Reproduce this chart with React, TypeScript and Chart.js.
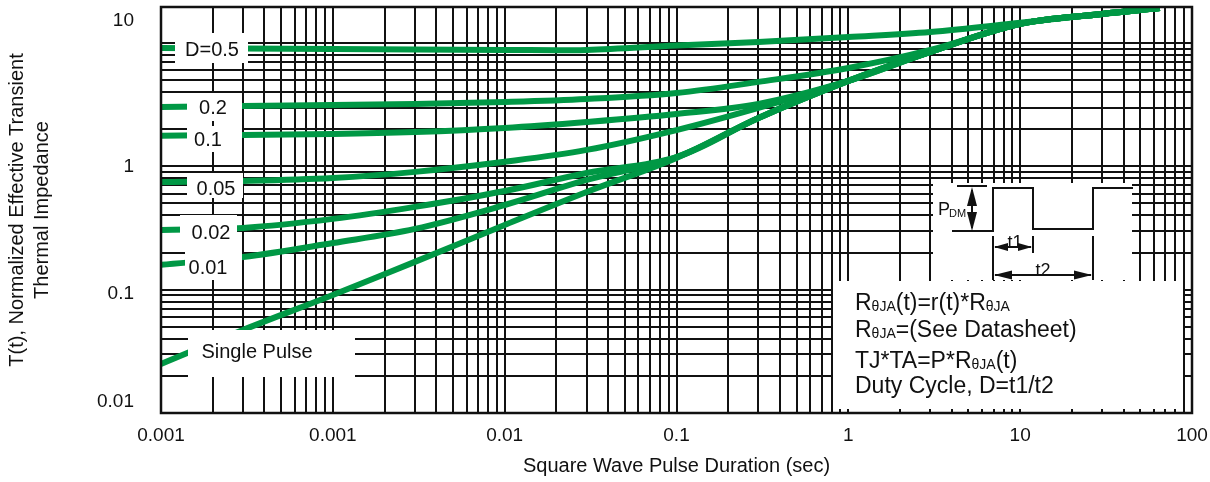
import React, { useEffect, useRef } from 'react';
import { Chart, registerables } from 'chart.js';

Chart.register(...registerables);

// ---------------- data ----------------
const pulseDuration = [0.0001, 0.0003, 0.001, 0.003, 0.01, 0.03, 0.1, 0.3, 1, 3, 10, 30, 65];

const seriesNames = ['D=0.5', '0.2', '0.1', '0.05', '0.02', '0.01', 'Single Pulse'];

const zthD050 = [9.12, 9.04, 8.96, 8.87, 8.79, 8.79, 9.55, 10.2, 11.2, 12.3, 14.6, 17.2, 19.2];
const zthD020 = [3.03, 3.09, 3.15, 3.21, 3.33, 3.52, 3.94, 4.84, 6.28, 8.79, 14.3, 17.2, 19.2];
const zthD010 = [1.77, 1.8, 1.83, 1.9, 2.05, 2.29, 2.66, 3.21, 4.93, 8.47, 14.3, 17.2, 19.2];
const zthD005 = [0.747, 0.762, 0.805, 0.902, 1.09, 1.36, 1.97, 2.98, 4.93, 8.47, 14.3, 17.2, 19.2];
const zthD002 = [0.305, 0.317, 0.375, 0.469, 0.631, 0.884, 1.19, 2.47, 4.93, 8.47, 14.3, 17.2, 19.2];
const zthD001 = [0.159, 0.184, 0.239, 0.311, 0.486, 0.776, 1.19, 2.47, 4.93, 8.47, 14.3, 17.2, 19.2];
const zthSingle = [0.025, 0.0471, 0.0906, 0.168, 0.335, 0.62, 1.17, 2.47, 4.93, 8.47, 14.3, 17.2, 19.2];

const seriesValues = [zthD050, zthD020, zthD010, zthD005, zthD002, zthD001, zthSingle];

// axis ticks (labels as printed on the reference)
const xTickValues = [0.0001, 0.001, 0.01, 0.1, 1, 10, 100];
const xTickLabels = ['0.001', '0.001', '0.01', '0.1', '1', '10', '100'];
// y labels sit where the reference prints them (not exactly on their grid lines)
const yTickValues = [15.1, 1, 0.093, 0.0123];
const yTickLabels = ['10', '1', '0.1', '0.01'];

const xMin = 0.0001;
const xMax = 100;
const yMin = 0.01;
const yMax = 19.6;

const xAxisTitle = 'Square Wave Pulse Duration (sec)';
const yAxisTitle = ['T(t), Normalized Effective Transient', 'Thermal Impedance'];

// ---------------- styling / layout ----------------
const FONT = '"Liberation Sans", Arial, Helvetica, sans-serif';
const GREEN = '#009845';
const INK = '#111111';

// minor log grid: 1..9 x each decade
function logGrid(decades: number[], last: number) {
  const out: number[] = [];
  decades.forEach((d) => {
    for (let k = 1; k <= 9; k++) out.push(k * d);
  });
  out.push(last);
  return out;
}
const xGrid = logGrid([0.0001, 0.001, 0.01, 0.1, 1, 10], 100);
const yGrid = logGrid([0.01, 0.1, 1], 10);

const same = (a: number, b: number) => Math.abs(Math.log10(a) - Math.log10(b)) < 1e-6;

// annotation layout, in reference pixels (plot area: left 161, top 7)
const labelBoxes = [
  { box: [175, 33, 248, 63], at: [212, 50] },
  { box: [187, 93, 242, 121], at: [213, 108] },
  { box: [187, 126, 242, 152], at: [208, 140] },
  { box: [187, 173, 243, 198], at: [216, 189] },
  { box: [180, 215, 237, 251], at: [211, 233] },
  { box: [185, 251, 242, 280], at: [208, 268] },
  { box: [188, 330, 355, 377], at: [257, 352] },
];

const formulaLines: [string, boolean][][] = [
  [['R', false], ['θJA', true], ['(t)=r(t)*R', false], ['θJA', true]],
  [['R', false], ['θJA', true], ['=(See Datasheet)', false]],
  [['TJ*TA=P*R', false], ['θJA', true], ['(t)', false]],
  [['Duty Cycle, D=t1/t2', false]],
];
const formulaBaselines = [310, 337, 368, 393];

function arrowHead(ctx: CanvasRenderingContext2D, x: number, y: number, dx: number, dy: number, len: number, half: number) {
  const bx = x - dx * len;
  const by = y - dy * len;
  const px = -dy * half;
  const py = dx * half;
  ctx.beginPath();
  ctx.moveTo(x, y);
  ctx.lineTo(bx + px, by + py);
  ctx.lineTo(bx - px, by - py);
  ctx.closePath();
  ctx.fill();
}

const overlayPlugin = {
  id: 'overlay',
  afterDatasetsDraw(chart: any) {
    const { ctx, chartArea: a } = chart;
    const X = (x: number) => a.left + (x - 161);
    const Y = (y: number) => a.top + (y - 7);
    ctx.save();

    // curve labels
    labelBoxes.forEach((lb, i) => {
      const [x1, y1, x2, y2] = lb.box;
      ctx.fillStyle = '#ffffff';
      ctx.fillRect(X(x1), Y(y1), x2 - x1, y2 - y1);
      ctx.fillStyle = INK;
      ctx.font = `20px ${FONT}`;
      ctx.textAlign = 'center';
      ctx.textBaseline = 'middle';
      ctx.fillText(seriesNames[i], X(lb.at[0]), Y(lb.at[1]));
    });

    // pulse diagram
    ctx.fillStyle = '#ffffff';
    ctx.fillRect(X(933), Y(183), 1132 - 933, 280 - 183);
    ctx.strokeStyle = INK;
    ctx.fillStyle = INK;
    ctx.lineWidth = 2;
    ctx.beginPath();
    ctx.moveTo(X(952), Y(231));
    ctx.lineTo(X(993), Y(231));
    ctx.lineTo(X(993), Y(188));
    ctx.lineTo(X(1033), Y(188));
    ctx.lineTo(X(1033), Y(229));
    ctx.lineTo(X(1093), Y(229));
    ctx.lineTo(X(1093), Y(188));
    ctx.lineTo(X(1133), Y(188));
    ctx.stroke();
    ctx.beginPath();
    ctx.moveTo(X(957), Y(186));
    ctx.lineTo(X(987), Y(186));
    ctx.moveTo(X(972), Y(190));
    ctx.lineTo(X(972), Y(228));
    ctx.moveTo(X(993), Y(236));
    ctx.lineTo(X(993), Y(280));
    ctx.moveTo(X(1033), Y(236));
    ctx.lineTo(X(1033), Y(253));
    ctx.moveTo(X(1093), Y(236));
    ctx.lineTo(X(1093), Y(280));
    ctx.moveTo(X(995), Y(247));
    ctx.lineTo(X(1031), Y(247));
    ctx.moveTo(X(995), Y(275));
    ctx.lineTo(X(1091), Y(275));
    ctx.stroke();
    arrowHead(ctx, X(972), Y(187), 0, -1, 19, 5);
    arrowHead(ctx, X(972), Y(231), 0, 1, 19, 5);
    arrowHead(ctx, X(994), Y(247), -1, 0, 14, 4);
    arrowHead(ctx, X(1032), Y(247), 1, 0, 14, 4);
    arrowHead(ctx, X(994), Y(275), -1, 0, 18, 4.5);
    arrowHead(ctx, X(1092), Y(275), 1, 0, 18, 4.5);

    ctx.textAlign = 'left';
    ctx.textBaseline = 'alphabetic';
    ctx.font = `18px ${FONT}`;
    ctx.fillText('P', X(938), Y(215));
    ctx.font = `11px ${FONT}`;
    ctx.fillText('DM', X(949), Y(217));
    ctx.font = `18px ${FONT}`;
    ctx.textAlign = 'center';
    ctx.fillText('t1', X(1015), Y(248));
    ctx.fillText('t2', X(1043), Y(276));

    // formula box
    ctx.fillStyle = '#ffffff';
    ctx.fillRect(X(833), Y(281), 1183 - 833, 409 - 281);
    ctx.fillStyle = INK;
    ctx.textAlign = 'left';
    formulaLines.forEach((parts, i) => {
      let cx = X(855);
      const by = Y(formulaBaselines[i]);
      parts.forEach(([t, sub]) => {
        ctx.font = `${sub ? 14 : 23}px ${FONT}`;
        ctx.fillText(t, cx, by + (sub ? 1 : 0));
        cx += ctx.measureText(t).width;
      });
    });
    ctx.restore();
  },
  afterDraw(chart: any) {
    const { ctx, chartArea: a } = chart;
    ctx.save();
    ctx.strokeStyle = INK;
    ctx.lineWidth = 2.5;
    ctx.strokeRect(a.left, a.top, a.right - a.left, a.bottom - a.top);
    ctx.restore();
  },
};

export default function App() {
  const ref = useRef<HTMLCanvasElement>(null);

  useEffect(() => {
    Chart.defaults.font.family = FONT;
    const datasets = seriesValues.map((vals, i) => ({
      label: seriesNames[i],
      data: pulseDuration.map((x, j) => ({ x, y: vals[j] })),
      borderColor: GREEN,
      backgroundColor: GREEN,
      borderWidth: 6,
      pointRadius: 0,
      fill: false,
      tension: 0.35,
      borderCapStyle: 'butt' as const,
      borderJoinStyle: 'round' as const,
    }));

    const chart = new Chart(ref.current as HTMLCanvasElement, {
      type: 'line',
      data: { datasets },
      plugins: [overlayPlugin],
      options: {
        animation: false,
        responsive: true,
        maintainAspectRatio: false,
        events: [],
        layout: { padding: { left: 0, top: 7, right: 18, bottom: 0 } },
        plugins: { legend: { display: false }, tooltip: { enabled: false } },
        scales: {
          x: {
            type: 'logarithmic',
            position: 'bottom',
            min: xMin,
            max: xMax,
            afterBuildTicks: (s: any) => {
              s.ticks = xGrid.map((v) => ({ value: v }));
            },
            afterFit: (s: any) => {
              s.height = 69;
              s.paddingLeft = 0;
              s.paddingRight = 0;
            },
            ticks: {
              autoSkip: false,
              maxRotation: 0,
              minRotation: 0,
              padding: 11,
              color: INK,
              font: { size: 19 },
              callback: (v: any) => {
                const i = xTickValues.findIndex((t) => same(t, Number(v)));
                return i >= 0 ? xTickLabels[i] : '';
              },
            },
            grid: { color: INK, lineWidth: 2, drawTicks: false },
            border: { display: false },
            title: {
              display: true,
              text: xAxisTitle,
              color: INK,
              font: { size: 20, lineHeight: 1.25 },
              padding: { top: 0, bottom: 3.5 },
            },
          },
          y: {
            type: 'logarithmic',
            position: 'left',
            min: yMin,
            max: yMax,
            afterBuildTicks: (s: any) => {
              const vals = [...yGrid];
              yTickValues.forEach((v) => {
                if (!vals.some((g) => same(g, v))) vals.push(v);
              });
              vals.sort((p, q) => p - q);
              s.ticks = vals.map((v) => ({ value: v }));
            },
            afterFit: (s: any) => {
              s.width = 161;
              s.paddingTop = 0;
              s.paddingBottom = 0;
            },
            ticks: {
              autoSkip: false,
              padding: 27,
              color: INK,
              font: { size: 19 },
              callback: (v: any) => {
                const i = yTickValues.findIndex((t) => same(t, Number(v)));
                return i >= 0 ? yTickLabels[i] : '';
              },
            },
            grid: {
              color: (c: any) =>
                c.tick && yGrid.some((g) => same(g, c.tick.value)) ? INK : 'rgba(0,0,0,0)',
              lineWidth: 2,
              drawTicks: false,
            },
            border: { display: false },
            title: {
              display: true,
              text: yAxisTitle,
              color: INK,
              font: { size: 20, lineHeight: 1.25 },
              padding: { top: 5, bottom: 0 },
            },
          },
        },
      } as any,
    });
    return () => chart.destroy();
  }, []);

  return (
    <div style={{ position: 'fixed', left: 0, top: 0, width: 1210, height: 482, background: '#fff' }}>
      <canvas ref={ref} />
    </div>
  );
}
